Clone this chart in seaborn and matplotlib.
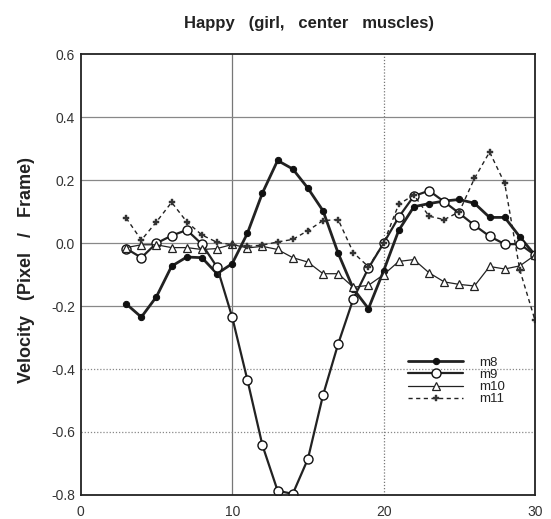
import matplotlib
matplotlib.use("Agg")
import matplotlib.pyplot as plt
from matplotlib.ticker import MultipleLocator
import seaborn as sns
import pandas as pd

frames = list(range(3, 31))
m8 = [-0.193, -0.235, -0.17, -0.073, -0.044, -0.046, -0.097, -0.065, 0.031, 0.16,
      0.263, 0.236, 0.175, 0.103, -0.032, -0.145, -0.208, -0.088, 0.041, 0.116,
      0.126, 0.134, 0.139, 0.127, 0.082, 0.082, 0.02, -0.038]
m9 = [-0.017, -0.046, 0.0, 0.024, 0.042, -0.003, -0.076, -0.235, -0.434, -0.643,
      -0.787, -0.797, -0.686, -0.483, -0.32, -0.177, -0.079, 0.0, 0.083, 0.15,
      0.167, 0.132, 0.095, 0.057, 0.022, -0.003, -0.003, -0.038]
m10 = [-0.014, -0.005, -0.005, -0.014, -0.014, -0.02, -0.017, -0.004, -0.015, -0.01,
       -0.02, -0.046, -0.06, -0.097, -0.097, -0.14, -0.134, -0.1, -0.058, -0.052,
       -0.094, -0.123, -0.131, -0.136, -0.074, -0.082, -0.072, -0.038]
m11 = [0.08, 0.01, 0.068, 0.13, 0.068, 0.026, 0.003, -0.005, -0.01, -0.006,
       0.004, 0.012, 0.04, 0.072, 0.075, -0.03, -0.075, 0.0, 0.124, 0.153,
       0.086, 0.075, 0.1, 0.206, 0.29, 0.19, -0.086, -0.245]

series_names = ["m8", "m9", "m10", "m11"]
series_vals = [m8, m9, m10, m11]
x_ticks = [0, 10, 20, 30]
y_ticks = [-0.8, -0.6, -0.4, -0.2, 0.0, 0.2, 0.4, 0.6]

title = "Happy   (girl,   center   muscles)"
ylabel = "Velocity   (Pixel   /   Frame)"

sns.set_style("white")
plt.rcParams['font.family'] = ['Liberation Sans', 'DejaVu Sans']

fig = plt.figure(figsize=(5.51, 5.19), dpi=100)
ax = fig.add_axes([0.1466, 0.0466, 0.8244, 0.8484])

# grid lines
for xv in x_ticks[1:-1]:
    ax.axvline(xv, color="#777777", lw=0.9,
               ls="-" if xv == 10 else (0, (1, 1.5)), zorder=0)
grid_styles = {0.4: "-", 0.2: "-", 0.0: "-", -0.2: "-", -0.4: (0, (1, 1.5)), -0.6: (0, (1, 1.5))}
for yv in y_ticks[1:-1]:
    ax.axhline(yv, color="#888888", lw=0.9, ls=grid_styles.get(round(yv, 1), "-"), zorder=0)

styles = {
    "m8": dict(marker="o", markersize=4.5, markerfacecolor="#111111", markeredgecolor="#111111",
               linewidth=2.0, linestyle="-"),
    "m9": dict(marker="o", markersize=6.5, markerfacecolor="white", markeredgecolor="#111111",
               markeredgewidth=1.0, linewidth=1.6, linestyle="-"),
    "m10": dict(marker="^", markersize=6, markerfacecolor="white", markeredgecolor="#222222",
                markeredgewidth=0.9, linewidth=0.9, linestyle="-"),
    "m11": dict(marker="P", markersize=5, markerfacecolor="#333333", markeredgecolor="#333333",
                markeredgewidth=0.3, linewidth=1.0, linestyle=(0, (3, 2.5))),
}

for name, vals in zip(series_names, series_vals):
    df = pd.DataFrame({"frame": frames, "velocity": vals})
    sns.lineplot(data=df, x="frame", y="velocity", ax=ax, color="#222222",
                 label=name, **styles[name])

ax.set_xlim(0, 30)
ax.set_ylim(-0.8, 0.6)
ax.set_xticks(x_ticks)
ax.set_yticks(y_ticks)
ax.set_yticklabels([f"{v:.1f}" for v in y_ticks])
ax.xaxis.set_minor_locator(MultipleLocator(2))
ax.yaxis.set_minor_locator(MultipleLocator(0.1))
ax.tick_params(axis="both", which="major", direction="inout", length=6, width=1,
               labelsize=10, colors="#222222", labelcolor="#333333")
ax.tick_params(axis="both", which="minor", direction="inout", length=3, width=0.8, colors="#555555")
ax.tick_params(axis="x", pad=4)
ax.tick_params(axis="y", pad=1)

for sp in ax.spines.values():
    sp.set_visible(True)
    sp.set_color("#222222")
    sp.set_linewidth(1.3)

ax.set_xlabel("")
ax.set_ylabel(ylabel, fontsize=13, fontweight="bold", color="#222222")
ax.yaxis.set_label_coords(-0.1, 0.51)
fig.text(0.56, 0.955, title, fontsize=12, fontweight="bold", color="#222222",
         ha="center", va="center")

leg = ax.legend(loc="upper left", bbox_to_anchor=(0.70, 0.335), frameon=False,
                fontsize=9.5, handlelength=4.2, handletextpad=1.2, labelspacing=0.0,
                borderpad=0.2)
for t in leg.get_texts():
    t.set_color("#222222")

fig.savefig("out.png", dpi=100)
